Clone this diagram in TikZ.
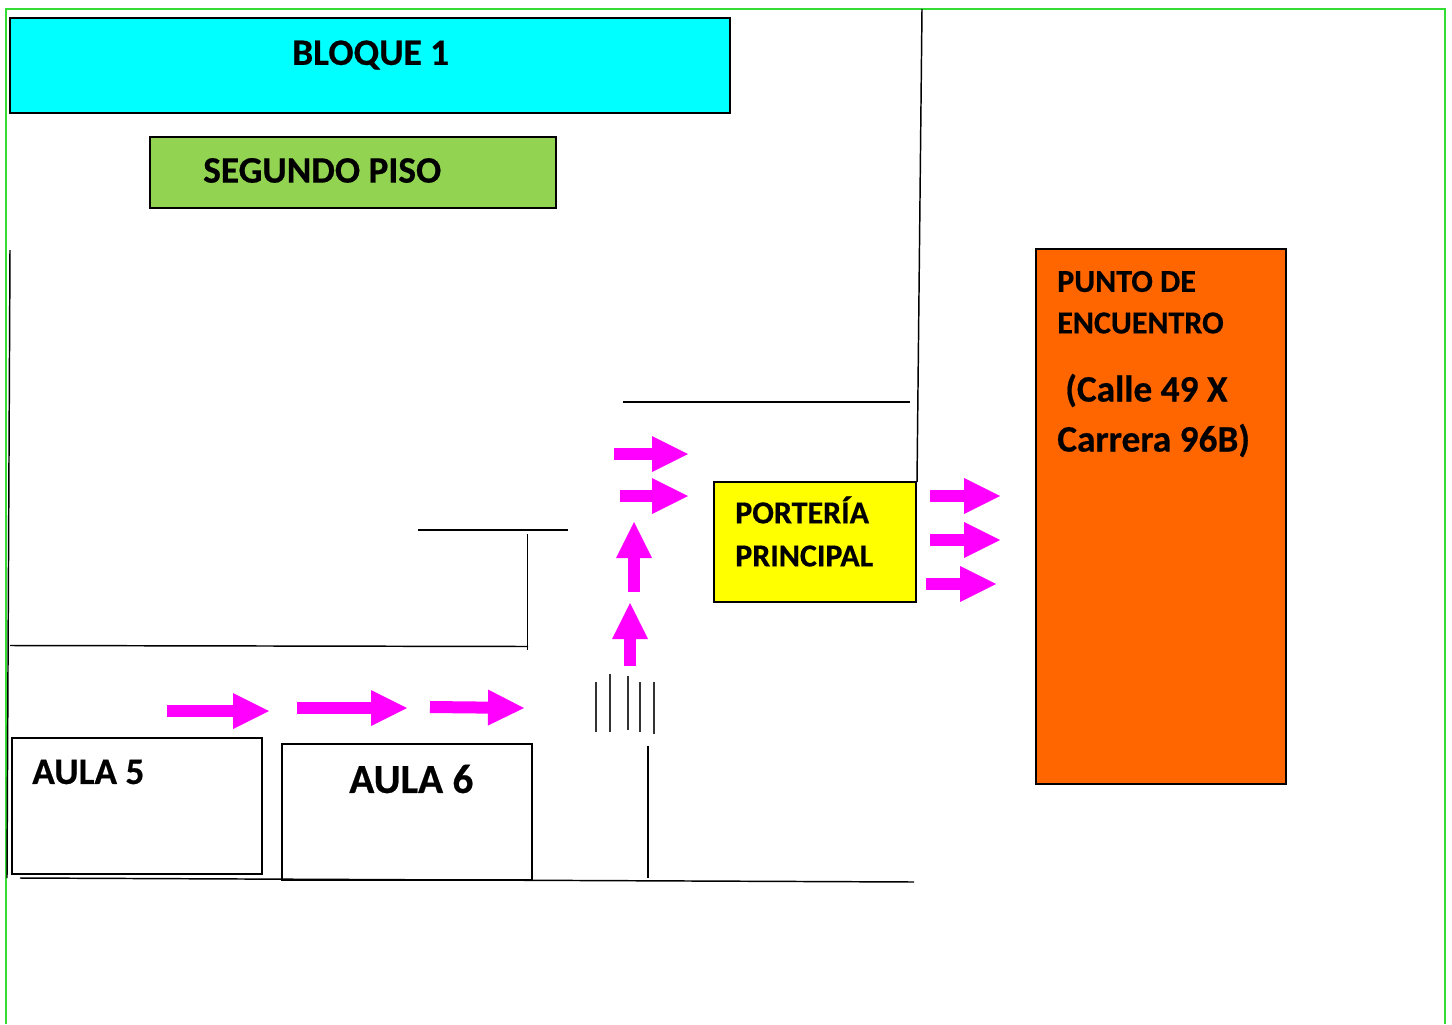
\documentclass[tikz,border=0pt]{standalone}
\usepackage{fontspec}
\setmainfont[BoldFeatures={FakeBold=0.5}]{Carlito}
\usetikzlibrary{arrows.meta}
\definecolor{cy}{HTML}{00FFFF}
\definecolor{gr}{HTML}{92D351}
\definecolor{org}{HTML}{FF6600}
\definecolor{mag}{HTML}{FF00FF}
\definecolor{yel}{HTML}{FFFF00}
\definecolor{fr}{HTML}{33DD33}
\tikzset{x=0.75pt,y=-0.75pt,
 boxs/.style={draw=black,line width=1.6pt,anchor=north west,inner sep=0pt},
 lbl/.style={anchor=west,inner sep=0pt,text=black},
 wall/.style={draw=black,line width=1.1pt},
 thin wall/.style={draw=black!80,line width=0.8pt},
 pa/.style={draw=mag,line width=9pt,-{Triangle[length=27pt,width=27pt,fill=mag,line width=0pt]}}}
\begin{document}
\begin{tikzpicture}
\useasboundingbox (0,0) rectangle (1452,1024);
% frame
\coordinate (fa) at (6,1024); \coordinate (fb) at (6,9); \coordinate (fc) at (1445,9); \coordinate (fd) at (1445,1024);
\draw[fr,line width=1.2pt] (fa)--(fb)--(fc)--(fd);
% boxes
\node[boxs,fill=cy,minimum width=540pt,minimum height=71.5pt] (b1) at (9,17) {};
\node[lbl,font=\bfseries\fontsize{28pt}{28pt}\selectfont] at (292,55) {BLOQUE 1};
\node[boxs,fill=gr,minimum width=304.5pt,minimum height=53.5pt] (b2) at (149,135.5) {};
\node[lbl,font=\bfseries\fontsize{28pt}{28pt}\selectfont] at (203,170.5) {SEGUNDO PISO};
\node[boxs,fill=org,minimum width=187.5pt,minimum height=401pt] (pe) at (1035,248) {};
\node[lbl,font=\bfseries\fontsize{24pt}{24pt}\selectfont] at (1057,281.5) {PUNTO DE};
\node[lbl,font=\bfseries\fontsize{24pt}{24pt}\selectfont] at (1057,323) {ENCUENTRO};
\node[lbl,font=\bfseries\fontsize{28pt}{28pt}\selectfont] at (1065,390.5) {(Calle 49 X};
\node[lbl,font=\bfseries\fontsize{28pt}{28pt}\selectfont] at (1057,440.5) {Carrera 96B)};
\node[boxs,fill=yel,minimum width=151.5pt,minimum height=90pt] (pp) at (713,481) {};
\node[lbl,font=\bfseries\fontsize{24pt}{24pt}\selectfont] at (735,510) {PORTERÍA};
\node[lbl,font=\bfseries\fontsize{24pt}{24pt}\selectfont] at (735,556) {PRINCIPAL};
\node[boxs,minimum width=187.5pt,minimum height=102pt] (a5) at (11,737) {};
\node[lbl,font=\bfseries\fontsize{28pt}{28pt}\selectfont] at (32,772) {AULA 5};
\node[boxs,minimum width=187.5pt,minimum height=102pt] (a6) at (281,743) {};
\node[lbl,font=\bfseries\fontsize{31pt}{31pt}\selectfont] at (349,779) {AULA 6};
% walls
\coordinate (w1a) at (922,9); \coordinate (w1b) at (917,482); \draw[wall] (w1a)--(w1b);
\coordinate (w2a) at (623,402); \coordinate (w2b) at (910,402); \draw[wall] (w2a)--(w2b);
\coordinate (w3a) at (418,530); \coordinate (w3b) at (568,530); \draw[wall] (w3a)--(w3b);
\coordinate (w4a) at (527.5,534); \coordinate (w4b) at (527.5,650); \draw[wall] (w4a)--(w4b);
\coordinate (w5a) at (10,645.5); \coordinate (w5b) at (528,646.5); \draw[wall] (w5a)--(w5b);
\coordinate (w6a) at (10,250); \coordinate (w6b) at (7,878); \draw[wall] (w6a)--(w6b);
\coordinate (w7a) at (20,878); \coordinate (w7b) at (914,882); \draw[wall] (w7a)--(w7b);
\coordinate (w8a) at (648,746); \coordinate (w8b) at (648,878); \draw[wall] (w8a)--(w8b);
% crossing
\foreach \i/\x/\t/\b in {1/596/682/732,2/610/674/732,3/628/676/730,4/640/682/732,5/654/682/734}{
 \coordinate (c\i a) at (\x,\t); \coordinate (c\i b) at (\x,\b);
 \draw[thin wall] (c\i a)--(c\i b);}
% arrows
\foreach \n/\xa/\ya/\xb/\yb in {
 p1/167/711/269/711, p2/297/708/407/708, p3/430/707/524/708,
 p4/630/666/630/603, p5/634/592/634/522,
 p6/620/496/688/496, p7/614/454/688/454,
 p8/930/496/1000/496, p9/930/540/1000/540, p10/926/584/996/584}{
 \coordinate (\n a) at (\xa,\ya); \coordinate (\n b) at (\xb,\yb);
 \draw[pa] (\n a)--(\n b);}
\end{tikzpicture}
\end{document}
